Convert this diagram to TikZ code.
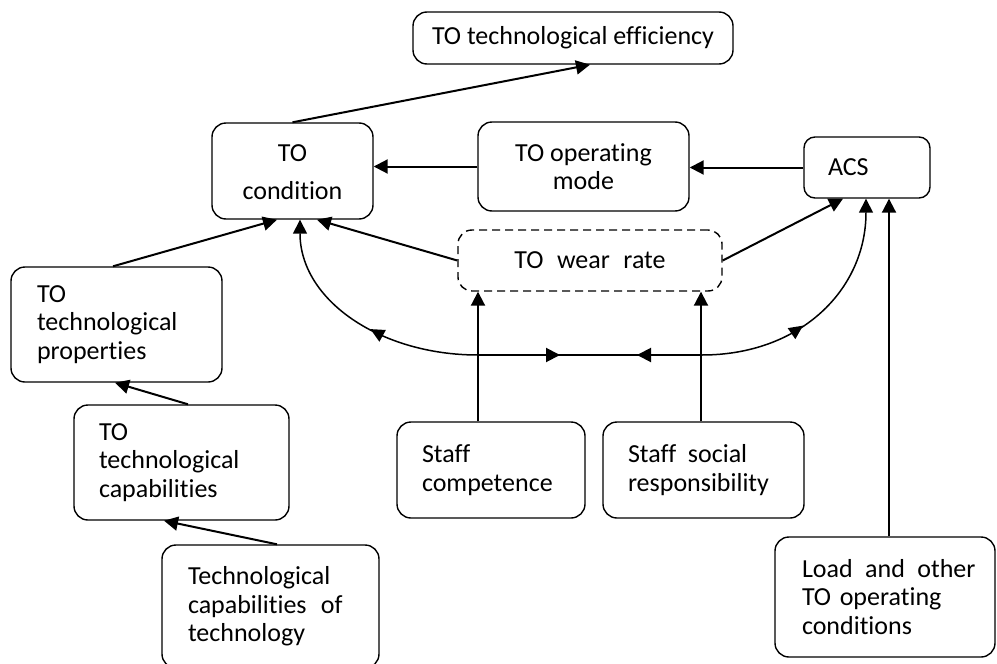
\documentclass[tikz,border=0pt]{standalone}
\usepackage{fontspec}
\newfontfamily\carlito[Ligatures=NoCommon]{Carlito}
\usetikzlibrary{arrows.meta,decorations.markings,calc}
\begin{document}
\begin{tikzpicture}[x=1pt,y=-1pt,
  box/.style={draw, rounded corners=14pt, line width=1.4pt, inner sep=0pt,
    font={\carlito\fontsize{26}{28.5}\selectfont}},
  lbox/.style={box, align=left},
  cbox/.style={box, align=center},
  arr/.style={line width=2pt, -{Triangle[length=14pt,width=14pt]}},
  curv/.style={line width=1.5pt},
  midarrow/.style={postaction={decorate}, decoration={markings,
    mark=at position #1 with {\arrow{Triangle[length=14pt,width=13pt]}}}}
]
\useasboundingbox (0,0) rectangle (997,664);

\node[cbox, minimum width=320pt, minimum height=52pt] (eff) at (573,38) {TO technological efficiency};
\node[cbox, minimum width=161pt, minimum height=96pt] (cond) at (292.5,171) {\begin{tabular}{@{}c@{}}\rule{0pt}{27pt}TO\\[9.5pt]condition\end{tabular}};
\node[cbox, minimum width=211pt, minimum height=89pt] (mode) at (583.5,166.5) {TO operating\\mode};
\node[lbox, rounded corners=11pt, minimum width=126pt, minimum height=61pt, text width=78pt] (acs) at (867,167.5) {ACS};
\node[cbox, dash pattern=on 8pt off 5pt, minimum width=264pt, minimum height=61pt] (wear) at (590,260.5) {TO\hspace{0.52em}wear\hspace{0.52em}rate};
\node[lbox, minimum width=211pt, minimum height=115pt, text width=159pt] (prop) at (116.5,324.5) {TO\\technological\\properties};
\node[lbox, minimum width=215pt, minimum height=115pt, text width=165pt] (cap) at (181.5,462.5) {TO\\technological\\capabilities};
\node[lbox, minimum width=217pt, minimum height=123pt, text width=165pt] (tech) at (270.5,606.5) {Technological\\capabilities\hspace{0.55em}of\\technology};
\node[lbox, minimum width=188pt, minimum height=96pt, text width=138pt] (sc) at (491,470) {Staff\\competence};
\node[lbox, minimum width=201pt, minimum height=96pt, text width=151pt] (ss) at (703.5,470) {Staff\hspace{0.45em}social\\responsibility};
\node[lbox, minimum width=220pt, minimum height=120pt, text width=166pt] (load) at (885,597) {\rlap{Load\hspace{0.48em}and\hspace{0.48em}other}\\TO operating\\conditions};

% straight connectors
\draw[arr] (cond.north) -- ([xshift=17pt]eff.south);
\draw[arr] (mode.west) -- (mode.west -| cond.east);
\draw[arr] (acs.west) -- (acs.west -| mode.east);
\draw[arr] (wear.west) -- ([xshift=24.5pt]cond.south);
\draw[arr] (wear.east) -- ([xshift=-24pt]acs.south);
\draw[arr] ([xshift=-3.5pt]prop.north) -- ([xshift=-15.5pt]cond.south);
\draw[arr] ([xshift=6.5pt]cap.north) -- ([xshift=-1.5pt]prop.south);
\draw[arr] ([xshift=6.5pt]tech.north) -- ([xshift=-17.5pt]cap.south);
\draw[arr] ([xshift=-13pt]sc.north) -- ([xshift=-112pt]wear.south);
\draw[arr] ([xshift=-2.5pt]ss.north) -- ([xshift=111pt]wear.south);
\draw[arr] ([xshift=4pt]load.north) -- ([xshift=22pt]acs.south);

% feedback curves
\coordinate (hl) at (478,355);
\coordinate (hr) at (702,355);
\coordinate (ml) at (560,355);
\coordinate (mr) at (637,355);
\draw[line width=2pt] (hl) -- (hr);
\draw[line width=2pt, -{Triangle[length=14pt,width=14pt]}] (hl) -- (ml);
\draw[line width=2pt, -{Triangle[length=14pt,width=14pt]}] (hr) -- (mr);
\draw[curv, midarrow=0.45, -{Triangle[length=14pt,width=14pt]}] (hl) .. controls (380,355) and (300,300) .. ([xshift=7.5pt]cond.south);
\draw[curv, midarrow=0.42, -{Triangle[length=14pt,width=14pt]}] (hr) .. controls (800,355) and (866,290) .. ([xshift=-1pt]acs.south);
\end{tikzpicture}
\end{document}
